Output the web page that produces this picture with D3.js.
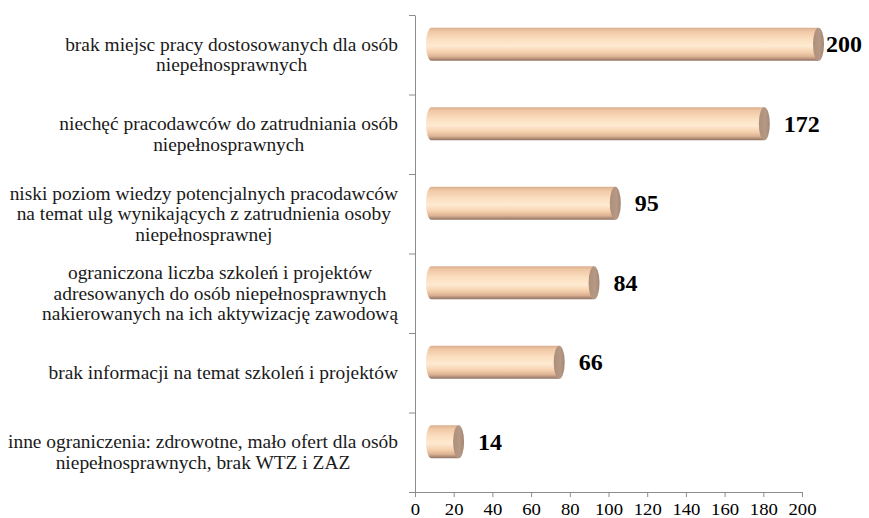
<!DOCTYPE html>
<html>
<head>
<meta charset="utf-8">
<script src="https://cdn.jsdelivr.net/npm/d3@7"></script>
<style>
  body { margin: 0; background: #fff; }
  svg { display: block; }
</style>
</head>
<body>
<script>
var categories = [
  ["brak miejsc pracy dostosowanych dla osób", "niepełnosprawnych"],
  ["niechęć pracodawców do zatrudniania osób", "niepełnosprawnych"],
  ["niski poziom wiedzy potencjalnych pracodawców", "na temat ulg wynikających z zatrudnienia osoby", "niepełnosprawnej"],
  ["ograniczona liczba szkoleń i projektów", "adresowanych do osób niepełnosprawnych", "nakierowanych na ich aktywizację zawodową"],
  ["brak informacji na temat szkoleń i projektów"],
  ["inne ograniczenia: zdrowotne, mało ofert dla osób", "niepełnosprawnych, brak WTZ i ZAZ"]
];
var values = [200, 172, 95, 84, 66, 14];
var xTicks = [0, 20, 40, 60, 80, 100, 120, 140, 160, 180, 200];

var width = 869,
    height = 518,
    plotLeft = 415, plotRight = 802,
    plotTop = 15, plotBottom = 492,
    depthX = 16.5, depthY = -10.5,   // 3d offset of the bars
    barH = 33, capRx = 5.5,
    serif = "'Liberation Serif', 'Times New Roman', Times, serif";

var svg = d3.select("body")
  .append("svg")
  .attr("width", width)
  .attr("height", height);

var defs = svg.append("defs");
var body = defs.append("linearGradient")
  .attr("id", "barBody")
  .attr("x1", 0).attr("y1", 0).attr("x2", 0).attr("y2", 1);
[[0, "#d8ae8f"], [0.1, "#f0c7a4"], [0.35, "#fbdfc0"], [0.55, "#feead1"],
 [0.75, "#f5d0ad"], [0.88, "#dbb192"], [1, "#8e7262"]].forEach(function(s) {
  body.append("stop").attr("offset", s[0]).attr("stop-color", s[1]);
});
var cap = defs.append("linearGradient")
  .attr("id", "barCap")
  .attr("x1", 0).attr("y1", 0).attr("x2", 1).attr("y2", 0);
[[0, "#ad8f7c"], [0.6, "#b69985"], [1, "#a38674"]].forEach(function(s) {
  cap.append("stop").attr("offset", s[0]).attr("stop-color", s[1]);
});

var x = d3.scaleLinear()
  .domain([0, 200])
  .range([plotLeft, plotRight]);

var y = d3.scaleBand()
  .domain(d3.range(categories.length))
  .range([plotTop, plotBottom]);

var yEdge = d3.scaleLinear()
  .domain([0, categories.length])
  .range([plotTop, plotBottom]);

// x axis
var xg = svg.append("g")
  .attr("transform", "translate(0," + plotBottom + ")")
  .call(d3.axisBottom(x).tickValues(xTicks).tickSize(5).tickSizeOuter(0).tickPadding(6));
xg.select(".domain").attr("stroke", "#8c8c8c");
xg.selectAll(".tick line").attr("stroke", "#8c8c8c");
xg.selectAll(".tick text")
  .attr("font-family", serif)
  .attr("font-size", 17)
  .attr("transform", "scale(1.1,1)")
  .attr("fill", "#000");

// y axis (ticks at category boundaries)
var yg = svg.append("g")
  .attr("transform", "translate(" + plotLeft + ",0)")
  .call(d3.axisLeft(yEdge).ticks(categories.length).tickFormat("").tickSize(6).tickSizeOuter(0));
yg.select(".domain").attr("stroke", "#8c8c8c");
yg.selectAll(".tick line").attr("stroke", "#8c8c8c");

// category labels, wrapped block right-aligned to the axis, lines centred
categories.forEach(function(lines, i) {
  var cy = y(i) + y.bandwidth() / 2,
      lh = 20.5,
      g = svg.append("g").attr("transform", "translate(398,0) scale(1.08,1)");
  var t = g.selectAll("text")
    .data(lines)
    .enter().append("text")
    .attr("y", function(d, j) { return cy + (j - (lines.length - 1) / 2) * lh; })
    .attr("dy", "0.35em")
    .attr("text-anchor", "middle")
    .attr("font-family", serif)
    .attr("font-size", 18)
    .attr("fill", "#1a1a1a")
    .text(String);
  var maxW = d3.max(t.nodes(), function(n) { return n.getComputedTextLength(); });
  t.attr("x", -maxW / 2);
});

// bars
var bars = svg.append("g");
values.forEach(function(v, i) {
  var cy = y(i) + y.bandwidth() / 2 + depthY,
      x0 = x(0) + depthX,
      x1 = x(v) + depthX,
      g = bars.append("g");
  g.append("path")
    .attr("d", "M" + x0 + "," + (cy - barH / 2) +
      " L" + x1 + "," + (cy - barH / 2) +
      " L" + x1 + "," + (cy + barH / 2) +
      " L" + x0 + "," + (cy + barH / 2) +
      " A" + capRx + "," + (barH / 2) + " 0 0 1 " + x0 + "," + (cy - barH / 2) + " Z")
    .attr("fill", "url(#barBody)");
  g.append("ellipse")
    .attr("cx", x1)
    .attr("cy", cy)
    .attr("rx", capRx)
    .attr("ry", barH / 2)
    .attr("fill", "url(#barCap)");
  g.append("text")
    .attr("x", Math.min(x(v) + 36, 826))
    .attr("y", cy)
    .attr("dominant-baseline", "central")
    .attr("font-family", serif)
    .attr("font-size", 24)
    .attr("font-weight", "bold")
    .attr("fill", "#000")
    .text(v);
});
</script>
</body>
</html>
